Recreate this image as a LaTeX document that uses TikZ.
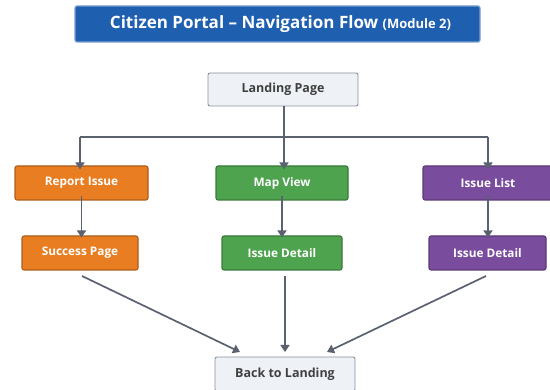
\documentclass[tikz,border=0pt]{standalone}
\usepackage{fontspec}
\setmainfont{Open Sans}
\usetikzlibrary{arrows.meta}
\definecolor{titleblue}{HTML}{1F5FB0}
\definecolor{lgray}{HTML}{EEF1F6}
\definecolor{bgray}{HTML}{8A929E}
\definecolor{arr}{HTML}{5A6270}
\definecolor{orng}{HTML}{E87D22}
\definecolor{grn}{HTML}{4EA34E}
\definecolor{purp}{HTML}{7A4C9E}
\tikzset{
  pbox/.style={draw=bgray, fill=lgray, line width=0.9pt, rounded corners=2pt, inner sep=0pt, font=\bfseries\fontsize{12.5}{15}\selectfont, text=black!75},
  cbox/.style={draw=#1!75!black, fill=#1, line width=1.1pt, rounded corners=2pt, inner sep=0pt, text=white, font=\bfseries\fontsize{11.8}{14}\selectfont},
  conn/.style={draw=arr, line width=1.7pt},
  arrw/.style={conn, -{Triangle[length=7pt,width=9pt]}},
}
\begin{document}
\begin{tikzpicture}[x=1pt,y=-1pt]
\useasboundingbox (0,0) rectangle (550,390);
\fill[white] (0,0) rectangle (550,390);
% title
\node[draw=titleblue!60!white, fill=titleblue, line width=1.2pt, rounded corners=2pt, minimum width=405pt, minimum height=36pt, inner sep=0pt, text=white, font=\bfseries\fontsize{17}{20}\selectfont] (title) at (277.5,24) {\hspace*{6pt}Citizen Portal -- Navigation Flow {\fontsize{13}{16}\selectfont(Module 2)}};
% nodes
\node[pbox, minimum width=150pt, minimum height=33pt] (landing) at (283,89.5) {Landing Page};
\node[cbox=orng, minimum width=133pt, minimum height=34pt] (report) at (81.5,183) {Report Issue};
\node[cbox=grn, minimum width=132pt, minimum height=34pt] (map) at (282,183) {Map View};
\node[cbox=purp, minimum width=130pt, minimum height=34pt] (list) at (488,183) {Issue List};
\node[cbox=orng, minimum width=116pt, minimum height=34pt] (success) at (80,253) {Success Page};
\node[cbox=grn, minimum width=120pt, minimum height=34pt] (detail1) at (282,253) {Issue Detail};
\node[cbox=purp, minimum width=117pt, minimum height=34pt] (detail2) at (487.5,253) {Issue Detail};
\node[pbox, minimum width=140pt, minimum height=34pt] (back) at (285,374) {Back to Landing};
% connectors
\coordinate (hub) at (284,137);
\coordinate (hl) at (80,137);
\coordinate (hr) at (488,137);
\draw[conn] (landing.south -| hub) -- (hub);
\draw[conn] (hl) -- (hr);
\draw[arrw] (hl) -- ([yshift=-4pt]report.north -| hl);
\draw[arrw] (hub) -- ([yshift=-4pt]map.north -| hub);
\draw[arrw] (hr) -- ([yshift=-4pt]list.north -| hr);
\draw[arrw] ([yshift=5pt]report.south) -- ([yshift=-2pt]success.north -| report.south);
\draw[arrw] ([yshift=5pt]map.south) -- ([yshift=-2pt]detail1.north -| map.south);
\draw[arrw] ([yshift=5pt]list.south) -- ([yshift=-2pt]detail2.north -| list.south);
\coordinate (s1) at (82,276);
\coordinate (s2) at (285,276);
\coordinate (s3) at (486,276);
\coordinate (e1) at (240,352);
\coordinate (e2) at (285,352);
\coordinate (e3) at (327,352);
\draw[arrw] (s1) -- (e1);
\draw[arrw] (s2) -- (e2);
\draw[arrw] (s3) -- (e3);
\end{tikzpicture}
\end{document}
